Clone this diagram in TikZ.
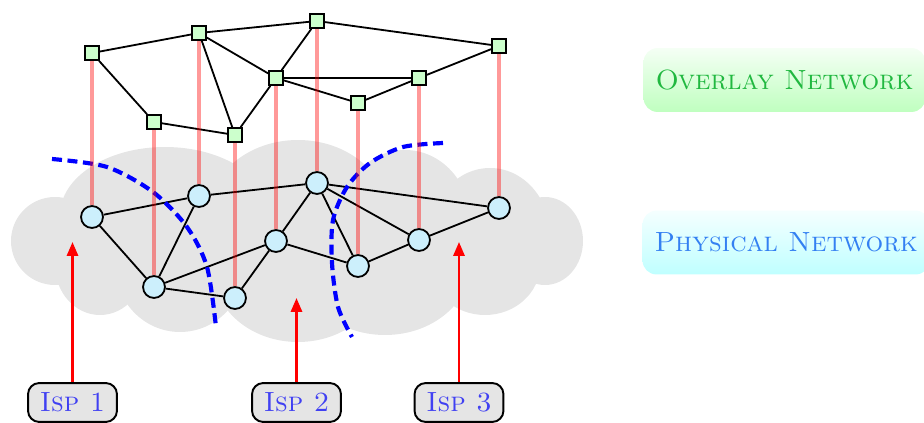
\documentclass[tikz,border=0pt]{standalone}
\usetikzlibrary{arrows.meta}
\definecolor{ovtext}{rgb}{0.13,0.72,0.25}
\definecolor{phtext}{rgb}{0.2,0.5,0.95}
\definecolor{isptext}{rgb}{0.25,0.25,0.95}
\begin{document}
\begin{tikzpicture}[x=0.36pt,y=-0.36pt,
 onode/.style={draw,line width=0.65pt,fill=green!20,minimum size=5pt,inner sep=0pt},
 pnode/.style={circle,draw,line width=0.65pt,fill=cyan!20,minimum size=7.9pt,inner sep=0pt},
 link/.style={line width=0.65pt},
 vlink/.style={red,opacity=0.4,line width=1.4pt},
 border/.style={blue,line width=1.5pt,dash pattern=on 3.6pt off 2pt},
 isparrow/.style={red,line width=0.9pt,-{Triangle[length=5pt,width=4pt]}},
 ispbox/.style={draw,line width=0.7pt,fill=gray!20,rounded corners=4pt,minimum width=32pt,minimum height=14pt,text=isptext},
 legend/.style={anchor=west,rounded corners=5pt,minimum height=23pt,inner xsep=4.3pt},
 cloudfill/.style={fill=gray!20,draw=none}
]
\useasboundingbox (0,0) rectangle (924,423);
\clip (0,0) rectangle (924,423);

% cloud
\foreach \cx/\cy/\rx/\ry in {55/241/44/44, 165/215/105/68, 298/215/90/75,
  405/220/65/70, 490/235/60/67, 545/241/38/44, 485/265/55/50, 385/265/85/70,
  298/270/85/72, 180/265/65/67, 100/265/45/50}
  \path[cloudfill] (\cx,\cy) ellipse [x radius=\rx, y radius=\ry];
\path[cloudfill] (70,205) rectangle (530,282);

% overlay nodes
\node (o1) [onode] at (92,53) {};
\node (o2) [onode] at (199,33) {};
\node (o3) [onode] at (317,21) {};
\node (o4) [onode] at (499,46) {};
\node (o5) [onode] at (276,78) {};
\node (o6) [onode] at (419,78) {};
\node (o7) [onode] at (358,103) {};
\node (o8) [onode] at (154,122) {};
\node (o9) [onode] at (235,135) {};

% physical nodes
\node (p1) [pnode] at (92,217) {};
\node (p2) [pnode] at (199,196) {};
\node (p3) [pnode] at (317,183) {};
\node (p4) [pnode] at (499,208) {};
\node (p5) [pnode] at (276,241) {};
\node (p6) [pnode] at (419,240) {};
\node (p7) [pnode] at (358,266) {};
\node (p8) [pnode] at (154,287) {};
\node (p9) [pnode] at (235,298) {};

% overlay links
\draw[link] (o1) -- (o2) (o2) -- (o3) (o3) -- (o4) (o1) -- (o8) (o8) -- (o9)
  (o2) -- (o9) (o2) -- (o5) (o5) -- (o3) (o5) -- (o9) (o5) -- (o6) (o5) -- (o7)
  (o7) -- (o6) (o6) -- (o4);

% physical links
\draw[link] (p1) -- (p2) (p2) -- (p3) (p3) -- (p4) (p1) -- (p8) (p8) -- (p2)
  (p8) -- (p5) (p8) -- (p9) (p9) -- (p5) (p5) -- (p3) (p5) -- (p7) (p3) -- (p7)
  (p3) -- (p6) (p6) -- (p7) (p6) -- (p4);

% ISP borders
\draw[border] plot[smooth] coordinates {(52,159) (107,167) (153,192) (187,227) (207,267) (216,327)};
\draw[border] plot[smooth] coordinates {(443,143) (403,147) (370,163) (347,187) (333,220) (332,263) (338,307) (352,337)};

% vertical mapping
\foreach \i in {1,...,9} \draw[vlink] (o\i) -- (p\i);

% ISP boxes
\node (isp1) [ispbox] at (72.5,402.5) {\textsc{Isp 1}};
\node (isp2) [ispbox] at (296.5,402.5) {\textsc{Isp 2}};
\node (isp3) [ispbox] at (459,402.5) {\textsc{Isp 3}};
\coordinate (t1) at (72.5,242);
\coordinate (t2) at (296.5,298);
\coordinate (t3) at (459,242);
\draw[isparrow] (isp1) -- (t1);
\draw[isparrow] (isp2) -- (t2);
\draw[isparrow] (isp3) -- (t3);

% legend
\node (ov) [legend, top color=green!4, bottom color=green!25, text=ovtext] at (643,80) {\textsc{Overlay Network}};
\node (ph) [legend, top color=cyan!4, bottom color=cyan!25, text=phtext] at (642,242.5) {\textsc{Physical Network}};
\end{tikzpicture}
\end{document}
